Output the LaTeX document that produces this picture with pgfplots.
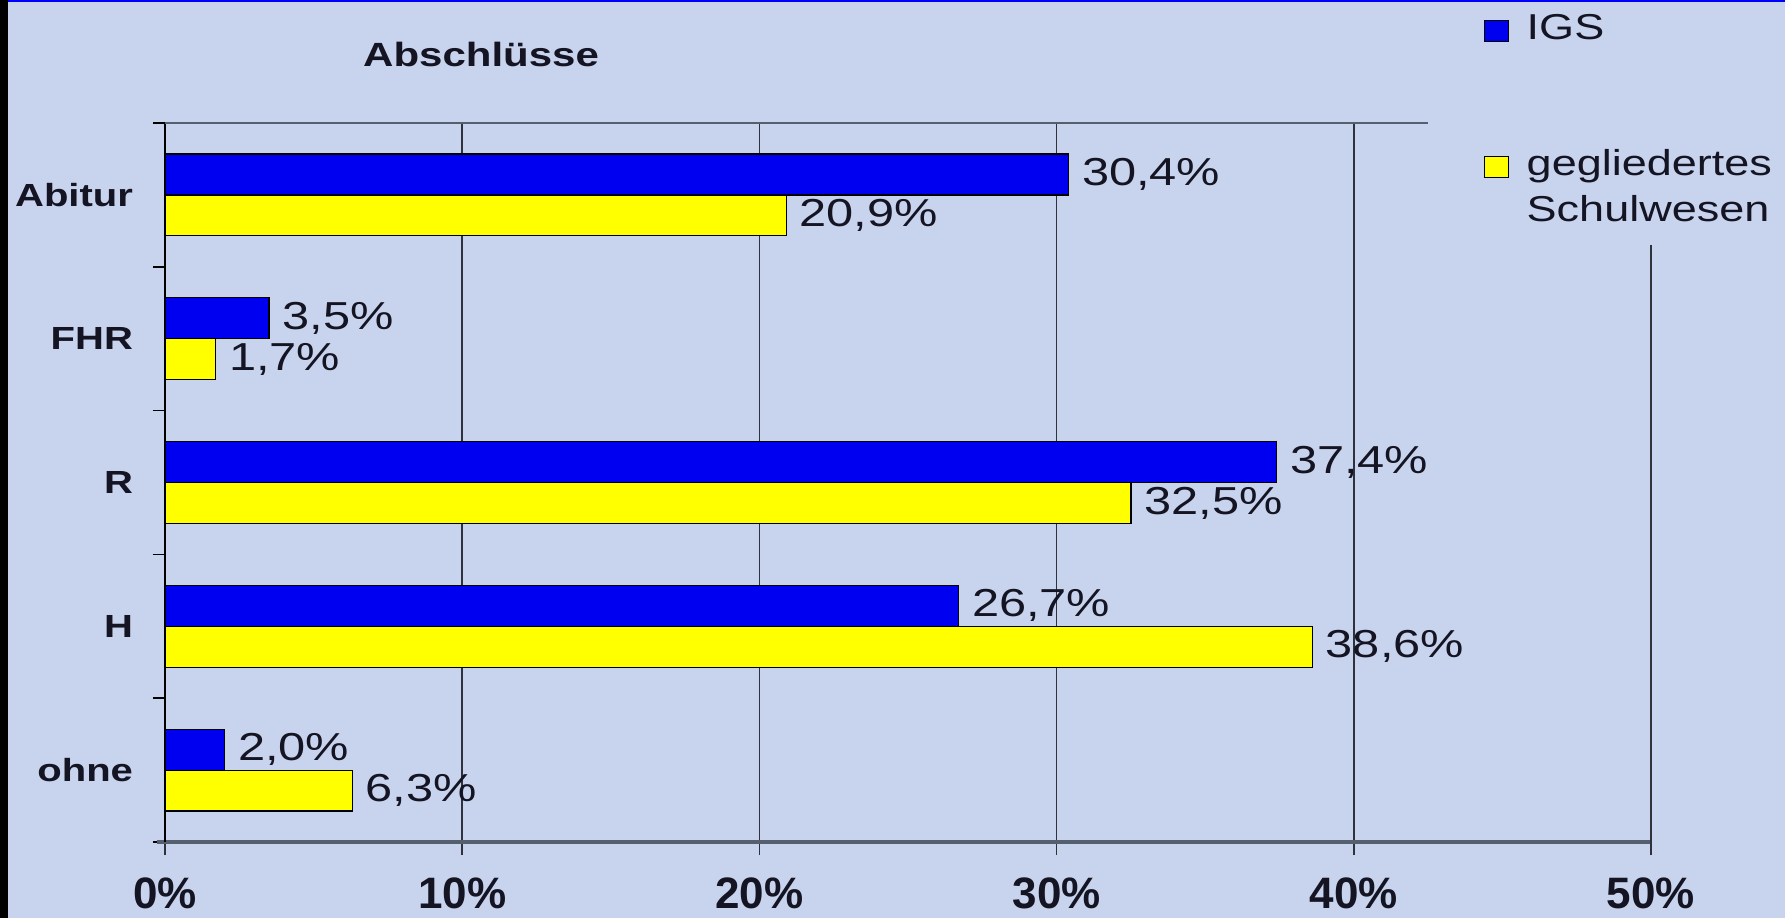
\documentclass[border=0pt]{standalone}
\usepackage{pgfplots}
\pgfplotsset{compat=1.18}
\usepackage{fontspec}
\setmainfont{Liberation Sans}
\newfontfamily\wide{Liberation Sans}[FakeStretch=1.25]
\definecolor{bg}{RGB}{200,212,238}
\definecolor{barblue}{RGB}{0,0,240}
\definecolor{baryellow}{RGB}{255,255,0}
\definecolor{txt}{RGB}{20,20,35}
\definecolor{gridc}{RGB}{45,50,60}
\definecolor{axisc}{RGB}{85,95,110}
\begin{document}
\begin{tikzpicture}
\useasboundingbox (0,0) rectangle (892.5pt,459pt);
\fill[bg] (0,0) rectangle (892.5pt,459pt);
\fill[blue] (0,458pt) rectangle (892.5pt,459pt);
\fill[black] (0,0) rectangle (4pt,459pt);
\begin{axis}[
  at={(82.5pt,38pt)}, anchor=south west,
  scale only axis, width=743pt, height=359.5pt,
  xmin=0, xmax=50, ymin=-0.5, ymax=4.5,
  clip=false,
  axis x line*=bottom, axis y line*=left,
  x axis line style={line width=1.8pt, color=axisc, shorten <=-4pt},
  y axis line style={line width=0.8pt, color=black},
  tick align=outside,
  major tick length=6.5pt, minor tick length=6pt,
  xtick={0,10,20,30,40},
  xticklabels={0\%,10\%,20\%,30\%,40\%},
  extra x ticks={50}, extra x tick labels={50\%},
  extra x tick style={grid=none},
  xmajorgrids,
  major grid style={line width=0.75pt, color=gridc},
  x tick style={line width=0.75pt, color=gridc},
  xticklabel style={font=\bfseries\fontsize{22}{22}\selectfont, text=txt, yshift=-8pt},
  ytick={0,1,2,3,4},
  yticklabels={ohne,H,R,FHR,Abitur},
  minor ytick={-0.5,0.5,...,4.5},
  every major y tick/.append style={draw=none},
  every minor y tick/.append style={draw=black, line width=0.75pt},
  yticklabel style={font=\wide\bfseries\fontsize{16}{16}\selectfont, text=txt, xshift=-6pt},
  xbar, bar width=0.285,
  nodes near coords, point meta=explicit symbolic,
  every node near coord/.append style={anchor=west, inner sep=0pt, xshift=6.5pt,
     font=\wide\fontsize{19.5}{20}\selectfont, text=txt},
  title={Abschlüsse},
  title style={at={(axis description cs:0.2127,1.078)}, anchor=center,
     font=\wide\bfseries\fontsize{16.8}{17}\selectfont, text=txt},
  legend style={at={(axis description cs:0.883,1.163)}, anchor=north west, draw=none, fill=none,
     font=\wide\fontsize{18}{23}\selectfont, text=txt, row sep=46.4pt, column sep=7pt,
     cells={anchor=base west}},
  mylegend/.style={legend image code/.code={\draw[##1,line width=0.6pt] (0pt,-1pt) rectangle (12pt,9.5pt);}},
]
\addplot[fill=barblue, draw=black, line width=0.6pt, bar shift=0.1425, mylegend]
  coordinates {(30.4,4) [30,4\%] (3.5,3) [3,5\%] (37.4,2) [37,4\%] (26.7,1) [26,7\%] (2.0,0) [2,0\%]};
\addlegendentry{IGS}
\addplot[fill=baryellow, draw=black, line width=0.6pt, bar shift=-0.1425, mylegend]
  coordinates {(20.9,4) [20,9\%] (1.7,3) [1,7\%] (32.5,2) [32,5\%] (38.6,1) [38,6\%] (6.3,0) [6,3\%]};
\addlegendentry{\begin{tabular}[t]{@{}l@{}}gegliedertes\\Schulwesen\end{tabular}}
\draw[axisc, line width=1pt] (axis cs:0,4.5) -- (axis cs:42.5,4.5);
\draw[gridc, line width=0.75pt] (axis cs:50,3.65) -- (axis cs:50,-0.5);
\end{axis}
\end{tikzpicture}
\end{document}
